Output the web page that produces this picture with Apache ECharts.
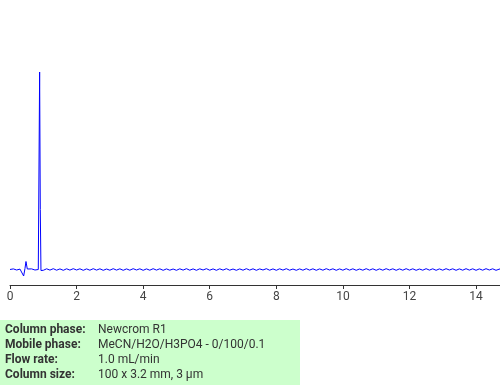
<!DOCTYPE html>
<html><head><meta charset="utf-8">
<script src="https://cdn.jsdelivr.net/npm/echarts@6/dist/echarts.min.js"></script>
<style>html,body{margin:0;padding:0;background:#fff}#c{width:500px;height:385px}</style>
</head><body><div id="c"></div>
<script>
// Retention times (min) and detector signal (arbitrary units)
const startTimes = [0.0, 0.1, 0.2, 0.3, 0.36, 0.41, 0.45, 0.48, 0.52, 0.56, 0.65, 0.75, 0.85, 0.87, 0.89, 0.91, 0.93, 0.96];
const startSignal = [0.0, 0.6, -0.5, 0.4, -1.5, -6.5, 1.0, 8.0, 0.5, -0.7, 0.6, -0.5, 0.0, 0.0, 197.5, 60.0, -1.0, 0.6];
const baseTimes = [1.0,1.1,1.2,1.3,1.4,1.5,1.6,1.7,1.8,1.9,2.0,2.1,2.2,2.3,2.4,2.5,2.6,2.7,2.8,2.9,3.0,3.1,3.2,3.3,3.4,3.5,3.6,3.7,3.8,3.9,4.0,4.1,4.2,4.3,4.4,4.5,4.6,4.7,4.8,4.9,5.0,5.1,5.2,5.3,5.4,5.5,5.6,5.7,5.8,5.9,6.0,6.1,6.2,6.3,6.4,6.5,6.6,6.7,6.8,6.9,7.0,7.1,7.2,7.3,7.4,7.5,7.6,7.7,7.8,7.9,8.0,8.1,8.2,8.3,8.4,8.5,8.6,8.7,8.8,8.9,9.0,9.1,9.2,9.3,9.4,9.5,9.6,9.7,9.8,9.9,10.0,10.1,10.2,10.3,10.4,10.5,10.6,10.7,10.8,10.9,11.0,11.1,11.2,11.3,11.4,11.5,11.6,11.7,11.8,11.9,12.0,12.1,12.2,12.3,12.4,12.5,12.6,12.7,12.8,12.9,13.0,13.1,13.2,13.3,13.4,13.5,13.6,13.7,13.8,13.9,14.0,14.1,14.2,14.3,14.4,14.5,14.6,14.72];
const baseSignal = [-0.8,0.7,-0.6,0.8,-0.7,0.6,-0.8,0.7,-0.6,0.8,-0.5,0.7,-0.8,0.6,-0.7,0.8,-0.6,0.7,-0.8,0.5,-0.7,0.8,-0.6,0.7,-0.8,0.6,-0.7,0.8,-0.5,0.7,-0.8,0.6,-0.7,0.8,-0.6,0.7,-0.8,0.6,-0.7,0.5,-0.8,0.7,-0.6,0.8,-0.7,0.6,-0.8,0.7,-0.5,0.8,-0.7,0.6,-0.8,0.7,-0.6,0.8,-0.7,0.5,-0.8,0.6,-0.7,0.8,-0.6,0.7,-0.8,0.6,-0.5,0.8,-0.7,0.6,-0.8,0.7,-0.6,0.8,-0.7,0.5,-0.8,0.6,-0.7,0.8,-0.6,0.7,-0.8,0.6,-0.7,0.8,-0.5,0.7,-0.8,0.6,-0.7,0.8,-0.6,0.7,-0.8,0.5,-0.7,0.8,-0.6,0.7,-0.8,0.6,-0.7,0.8,-0.5,0.7,-0.8,0.6,-0.7,0.8,-0.6,0.7,-0.8,0.5,-0.7,0.8,-0.6,0.7,-0.8,0.6,-0.7,0.8,-0.5,0.7,-0.8,0.6,-0.7,0.8,-0.6,0.7,-0.8,0.6,-0.7,0.8,-0.5,0.7,-0.8,0.6,-0.7,0.3];
const xTicks = [0, 2, 4, 6, 8, 10, 12, 14];
const infoLabels = ['Column phase:', 'Mobile phase:', 'Flow rate:', 'Column size:'];
const infoValues = ['Newcrom R1', 'MeCN/H2O/H3PO4 - 0/100/0.1', '1.0 mL/min', '100 x 3.2 mm, 3 µm'];

const times = startTimes.concat(baseTimes);
const signal = startSignal.concat(baseSignal);
const data = times.map((t, i) => [t, signal[i]]);

const chart = echarts.init(document.getElementById('c'), null, {renderer: 'canvas'});
const graphics = [{
  type: 'rect', left: 0, top: 320, shape: {width: 300, height: 65},
  style: {fill: '#ccffcc'}, silent: true
}];
infoLabels.forEach((l, i) => {
  graphics.push({type: 'text', left: 5, top: 324 + i * 15,
    style: {text: l, fill: '#333', font: 'bold 12px Roboto, sans-serif'}});
  graphics.push({type: 'text', left: 98, top: 324 + i * 15,
    style: {text: infoValues[i], fill: '#333', font: '12px Roboto, sans-serif'}});
});

chart.setOption({
  animation: false,
  grid: {left: 10, right: 0, top: 20, bottom: 100, containLabel: false},
  xAxis: {
    type: 'value', min: 0, max: 14.72, interval: 2,
    axisLine: {show: true, onZero: false, lineStyle: {color: '#333', width: 1}},
    axisTick: {show: true, length: 4, lineStyle: {color: '#333'}},
    axisLabel: {color: '#444', fontSize: 12, fontFamily: 'Roboto, sans-serif', margin: 6,
      formatter: v => xTicks.includes(v) ? String(v) : '', showMaxLabel: false},
    splitLine: {show: false}
  },
  yAxis: {type: 'value', min: -15.5, max: 249.5, show: false, splitLine: {show: false}},
  series: [{
    type: 'line', data: data, showSymbol: false, symbol: 'none',
    lineStyle: {color: '#0000ff', width: 1}, smooth: false
  }],
  graphic: graphics
});
</script></body></html>
